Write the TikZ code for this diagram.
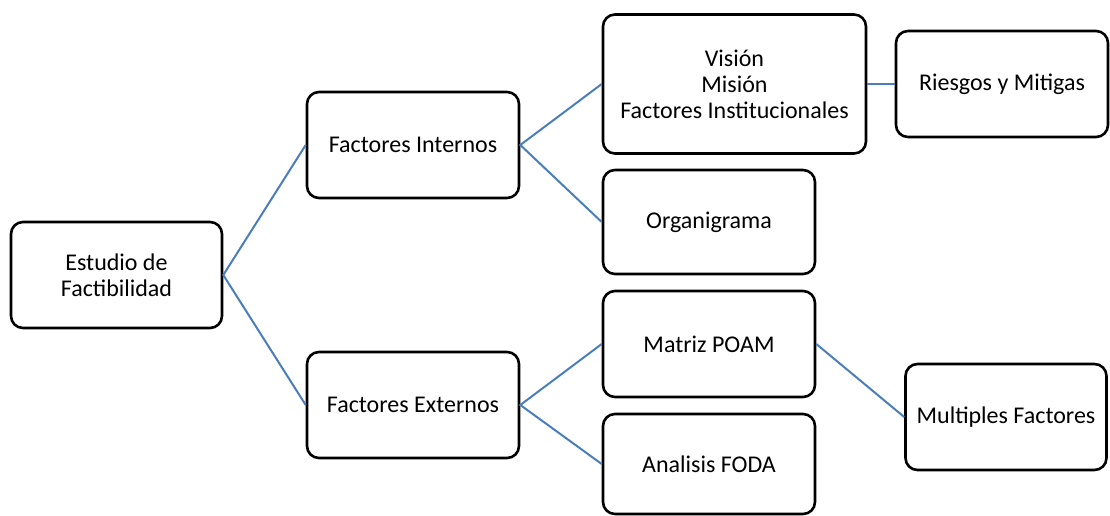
\documentclass[tikz,border=0pt]{standalone}
\usepackage{fontspec}
\setmainfont{Carlito}
\usepackage{tikz}

\tikzset{
  caja/.style={draw=black, line width=2.6pt, rounded corners=12pt, align=center,
    minimum width=212pt, minimum height=106pt, inner sep=0pt,
    font=\fontsize{24}{26}\selectfont},
  enlace/.style={draw=linkblue, line width=2pt}
}
\definecolor{linkblue}{HTML}{4A7EBB}

\begin{document}
\begin{tikzpicture}[x=1pt, y=-1pt]

\useasboundingbox (0,0) rectangle (1110,516);

\node[caja, minimum width=211pt] (est) at (116.5,275) {Estudio de\\Factibilidad};

\node[caja] (fint) at (413,145) {Factores Internos};
\node[caja] (fext) at (413,405) {Factores Externos};

\node[caja, minimum width=263pt, minimum height=139pt] (vis) at (734.5,84) {Visión\\Misión\\Factores Institucionales};
\node[caja] (ries) at (1002,84) {Riesgos y Mitigas};
\node[caja, minimum height=104pt] (org) at (709,222) {Organigrama};

\node[caja] (poam) at (709,344) {Matriz POAM};
\node[caja, minimum height=100pt] (foda) at (709,464) {Analisis FODA};
\node[caja, minimum width=201pt] (mult) at (1006,417) {Multiples Factores};

\draw[enlace] (fint.west) -- (est.east) -- (fext.west);
\draw[enlace] (vis.west) -- (fint.east) -- (org.west);
\draw[enlace] (poam.west) -- (fext.east) -- (foda.west);
\draw[enlace] (vis.east) -- (ries.west);
\draw[enlace] (poam.east) -- (mult.west);

\end{tikzpicture}
\end{document}
